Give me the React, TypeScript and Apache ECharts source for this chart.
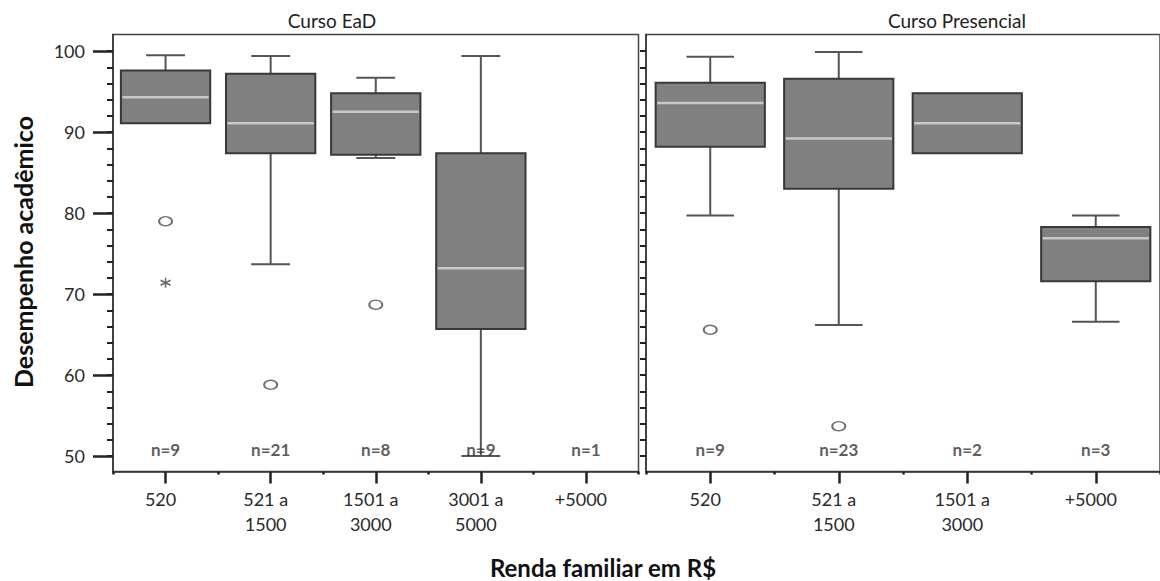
import React, { useEffect, useRef } from 'react';
import * as echarts from 'echarts';

// ---------- data ----------
const eadCategories = ['520', '521 a\n1500', '1501 a\n3000', '3001 a\n5000', '+5000'];
const eadCounts = [9, 21, 8, 9, 1];
// [category index, lower whisker, Q1, median, Q3, upper whisker]
const eadBoxes = [
  [0, 91.1, 91.1, 94.3, 97.6, 99.5],
  [1, 73.7, 87.4, 91.1, 97.2, 99.4],
  [2, 86.8, 87.2, 92.5, 94.8, 96.7],
  [3, 50.0, 65.7, 73.2, 87.4, 99.4],
];
const eadOutliers = [[0, 79.0], [1, 58.8], [2, 68.7]];
const eadExtremes = [[0, 71.4]];

const presCategories = ['520', '521 a\n1500', '1501 a\n3000', '+5000'];
const presCounts = [9, 23, 2, 3];
const presBoxes = [
  [0, 79.7, 88.2, 93.6, 96.1, 99.3],
  [1, 66.2, 83.0, 89.2, 96.6, 99.9],
  [2, 87.4, 87.4, 91.1, 94.8, 94.8],
  [3, 66.6, 71.6, 76.9, 78.3, 79.7],
];
const presOutliers = [[0, 65.6], [1, 53.7]];

const yMin = 48.1;
const yMax = 102.05;
const yMajorTicks = [50, 60, 70, 80, 90, 100];
const yMinorTicks = [50, 52, 54, 56, 58, 60, 62, 64, 66, 68, 70, 72, 74, 76, 78, 80, 82, 84, 86, 88, 90, 92, 94, 96, 98, 100];
const countLevel = 50.8;

const panelTitles = ['Curso EaD', 'Curso Presencial'];
const yTitle = 'Desempenho acadêmico';
const xTitle = 'Renda familiar em R$';

const FONT = 'Lato, "Noto Sans", sans-serif';

function boxRenderer(params: any, api: any) {
  const idx = api.value(0);
  const lo = api.coord([idx, api.value(1)]);
  const q1 = api.coord([idx, api.value(2)]);
  const md = api.coord([idx, api.value(3)]);
  const q3 = api.coord([idx, api.value(4)]);
  const hi = api.coord([idx, api.value(5)]);
  const band = api.size([1, 0])[0];
  const bw = band * 0.85;
  const cw = band * 0.37;
  const cx = md[0];
  const whisk = { stroke: '#555555', lineWidth: 2 };
  const children: any[] = [];
  if (hi[1] < q3[1] - 0.5) {
    children.push({ type: 'line', shape: { x1: cx, y1: q3[1], x2: cx, y2: hi[1] }, style: whisk });
    children.push({ type: 'line', shape: { x1: cx - cw / 2, y1: hi[1], x2: cx + cw / 2, y2: hi[1] }, style: whisk });
  }
  if (lo[1] > q1[1] + 0.5) {
    children.push({ type: 'line', shape: { x1: cx, y1: q1[1], x2: cx, y2: lo[1] }, style: whisk });
    children.push({ type: 'line', shape: { x1: cx - cw / 2, y1: lo[1], x2: cx + cw / 2, y2: lo[1] }, style: whisk });
  }
  children.push({
    type: 'rect',
    shape: { x: cx - bw / 2, y: q3[1], width: bw, height: q1[1] - q3[1] },
    style: { fill: '#808080', stroke: '#383838', lineWidth: 2 },
  });
  children.push({
    type: 'line',
    shape: { x1: cx - bw / 2 + 1.5, y1: md[1], x2: cx + bw / 2 - 1.5, y2: md[1] },
    style: { stroke: '#c8c8c8', lineWidth: 2.5 },
  });
  return { type: 'group', children };
}

function mainXAxis(gridIndex: number, data: string[]) {
  return {
    type: 'category',
    gridIndex,
    data,
    position: 'bottom',
    axisLine: { show: true, lineStyle: { color: '#333', width: 1.5 } },
    axisTick: { show: true, alignWithLabel: true, length: 12, lineStyle: { color: '#222', width: 2.5 } },
    axisLabel: {
      interval: 0,
      fontSize: 18,
      fontFamily: FONT,
      color: '#2a2a2a',
      lineHeight: 25,
      margin: 15,
      padding: [0, 10, 0, 0],
    },
    splitLine: { show: false },
  };
}

function boundaryXAxis(gridIndex: number, data: string[]) {
  return {
    type: 'category',
    gridIndex,
    data,
    position: 'bottom',
    axisLine: { show: false },
    axisTick: { show: true, interval: 0, length: 3, lineStyle: { color: '#222', width: 2.5 } },
    axisLabel: { show: false },
    splitLine: { show: false },
  };
}

export default function App() {
  const ref = useRef<HTMLDivElement>(null);

  useEffect(() => {
    if (!ref.current) return;
    const chart = echarts.init(ref.current, null, { renderer: 'svg' });
    const scatterOutlier = (xi: number, yi: number, data: number[][]) => ({
      type: 'scatter',
      xAxisIndex: xi,
      yAxisIndex: yi,
      data,
      symbol: 'circle',
      symbolSize: [13, 9],
      itemStyle: { color: '#ffffff', borderColor: '#4e4e4e', borderWidth: 1.7 },
      z: 5,
    });
    const countSeries = (xi: number, yi: number, counts: number[]) => ({
      type: 'scatter',
      xAxisIndex: xi,
      yAxisIndex: yi,
      data: counts.map((n, i) => [i, countLevel, n]),
      symbolSize: 1,
      itemStyle: { color: 'transparent' },
      label: {
        show: true,
        position: 'inside',
        formatter: (p: any) => 'n=' + p.value[2],
        fontSize: 17,
        fontWeight: 'bold',
        fontFamily: FONT,
        color: '#333',
      },
      z: 6,
    });

    chart.setOption({
      animation: false,
      backgroundColor: '#ffffff',
      grid: [
        { left: 113, top: 34.5, width: 525.5, height: 437, show: true, borderColor: '#444', borderWidth: 1.5, backgroundColor: 'transparent' },
        { left: 646, top: 34.5, width: 522, height: 437, show: true, borderColor: '#444', borderWidth: 1.5, backgroundColor: 'transparent' },
      ],
      xAxis: [
        mainXAxis(0, eadCategories),
        mainXAxis(1, presCategories),
        boundaryXAxis(0, eadCategories),
        boundaryXAxis(1, presCategories),
      ],
      yAxis: [
        {
          type: 'value',
          gridIndex: 0,
          position: 'left',
          min: yMin,
          max: yMax,
          axisLine: { show: true, lineStyle: { color: '#333', width: 1.5 } },
          axisTick: { show: true, length: 20, customValues: yMajorTicks, lineStyle: { color: '#222', width: 2.5 } },
          axisLabel: { customValues: yMajorTicks, margin: 28, fontSize: 18, fontFamily: FONT, color: '#2a2a2a' },
          splitLine: { show: false },
        },
        {
          type: 'value',
          gridIndex: 0,
          position: 'left',
          min: yMin,
          max: yMax,
          axisLine: { show: false },
          axisTick: { show: true, length: 6, customValues: yMinorTicks, lineStyle: { color: '#222', width: 2 } },
          axisLabel: { show: false },
          splitLine: { show: false },
        },
        {
          type: 'value',
          gridIndex: 1,
          position: 'left',
          min: yMin,
          max: yMax,
          axisLine: { show: true, lineStyle: { color: '#333', width: 1.5 } },
          axisTick: { show: true, length: 6, customValues: yMinorTicks, lineStyle: { color: '#222', width: 2 } },
          axisLabel: { show: false },
          splitLine: { show: false },
        },
      ],
      series: [
        { type: 'custom', xAxisIndex: 0, yAxisIndex: 0, data: eadBoxes, encode: { x: 0, y: [1, 2, 3, 4, 5] }, renderItem: boxRenderer, z: 3 },
        { type: 'custom', xAxisIndex: 1, yAxisIndex: 2, data: presBoxes, encode: { x: 0, y: [1, 2, 3, 4, 5] }, renderItem: boxRenderer, z: 3 },
        scatterOutlier(0, 0, eadOutliers),
        scatterOutlier(1, 2, presOutliers),
        {
          type: 'scatter',
          xAxisIndex: 0,
          yAxisIndex: 0,
          data: eadExtremes,
          symbol: 'path://M5,0L5,10M0.7,2.5L9.3,7.5M0.7,7.5L9.3,2.5',
          symbolSize: 10,
          itemStyle: { color: 'transparent', borderColor: '#444', borderWidth: 1.5 },
          z: 5,
        },
        countSeries(0, 0, eadCounts),
        countSeries(1, 2, presCounts),
      ],
      graphic: [
        { type: 'text', x: 332, y: 20, style: { text: panelTitles[0], font: `19px ${FONT}`, fill: '#222', textAlign: 'center', textVerticalAlign: 'middle' } },
        { type: 'text', x: 957, y: 20, style: { text: panelTitles[1], font: `19px ${FONT}`, fill: '#222', textAlign: 'center', textVerticalAlign: 'middle' } },
        { type: 'text', x: 23, y: 252, rotation: Math.PI / 2, style: { text: yTitle, font: `bold 25px ${FONT}`, fill: '#111', textAlign: 'center', textVerticalAlign: 'middle' } },
        { type: 'text', x: 603, y: 567, style: { text: xTitle, font: `bold 24px ${FONT}`, fill: '#111', textAlign: 'center', textVerticalAlign: 'middle' } },
      ],
    });
    return () => chart.dispose();
  }, []);

  return <div ref={ref} style={{ position: 'fixed', left: 0, top: 0, width: 1160, height: 581 }} />;
}
